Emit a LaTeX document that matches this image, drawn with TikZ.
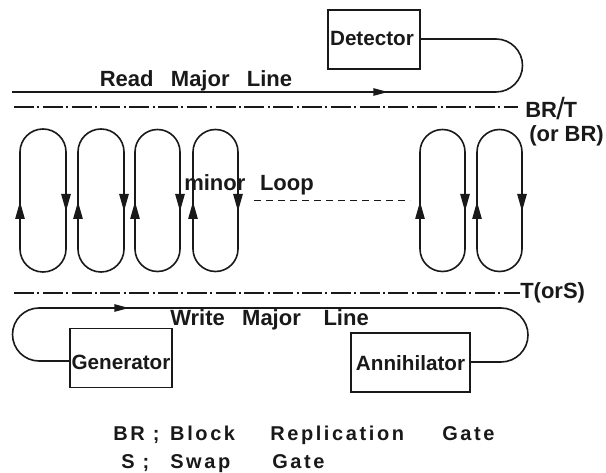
\documentclass[tikz,border=0pt]{standalone}
\usepackage{fontspec}
\setmainfont{Liberation Sans}[BoldFont={Liberation Sans Bold}]
\newfontfamily\spacedfont{Liberation Sans Bold}[LetterSpace=13]
\usetikzlibrary{arrows.meta}
\newcommand{\gp}[1]{\hspace{#1pt}}
\tikzset{
  x=0.75pt,y=-0.75pt,
  ln/.style={line width=1.2pt,black!90},
  boxnode/.style={draw,line width=1.2pt,black!90,inner sep=0pt},
  boxtext/.style={inner sep=0pt,font=\fontsize{15.5}{17}\selectfont\bfseries,black!90},
  lbl/.style={inner sep=0pt,font=\fontsize{16.5}{18}\selectfont\bfseries,black!90},
  lgd/.style={inner sep=0pt,anchor=west,font=\fontsize{15}{16}\spacedfont,black!90},
  gate/.style={line width=1.3pt,black!90,dash pattern=on 15pt off 2.5pt on 1.6pt off 2.5pt},
  vtip/.style={line width=1.2pt,black!90,-{Triangle[length=13pt,width=7pt]},shorten >=-1pt},
  htip/.style={line width=1.2pt,black!90,-{Triangle[length=11pt,width=5.5pt]}}
}
\begin{document}
\begin{tikzpicture}
\useasboundingbox (0,0) rectangle (606,473);
% boxes
\node[boxnode,minimum width=69pt,minimum height=44.25pt] (det) at (374,39.5) {};
\node[boxtext] (dett) at (372,38.5) {Detector};
\node[boxnode,minimum width=76.5pt,minimum height=44.25pt] (gen) at (121,358) {};
\node[boxtext] (gent) at (121,362) {Generator};
\node[boxnode,minimum width=89.25pt,minimum height=44.25pt] (ann) at (410.5,362.5) {};
\node[boxtext] (annt) at (410.5,363) {Annihilator};
% read major line
\coordinate (rstart) at (12,92);
\coordinate (rtip) at (388,92);
\coordinate (wtip) at (129,308);
\draw[ln] (det.east |- 0,39) -- (496,39) arc[start angle=-90,end angle=90,radius=26.5] -- (rstart);
\draw[htip] (370,92) -- (rtip);
% write major line
\draw[ln] (gen.west |- 0,361) -- (39,361) arc[start angle=90,end angle=270,radius=26.5] -- (501,308)
   arc[start angle=-90,end angle=90,radius=27] -- (ann.east |- 0,362);
\draw[htip] (112,308) -- (wtip);
% gate lines
\coordinate (g1a) at (14,107); \coordinate (g1b) at (518,107);
\coordinate (g2a) at (14,293); \coordinate (g2b) at (520,293);
\draw[gate] (g1a) -- (g1b);
\draw[gate] (g2a) -- (g2b);
% minor loops
\foreach \l/\r in {20/66,78/124,135/180,193/238,420/465,477/522}{
  \pgfmathsetmacro{\rad}{(\r-\l)/2}
  \draw[ln] (\l,249) -- (\l,152) arc[start angle=180,end angle=360,radius=\rad] -- (\r,249)
     arc[start angle=0,end angle=180,radius=\rad];
  \draw[vtip] (\l,221) -- (\l,203);
  \draw[vtip] (\r,192) -- (\r,210);
}
% dashed link
\coordinate (da) at (254,200.5); \coordinate (db) at (410,200.5);
\draw[line width=1pt,black!90,dash pattern=on 5.5pt off 3.5pt] (da) -- (db);
% labels
\node[lbl] (read) at (196,80.5) {Read\gp{13}Major\gp{13}Line};
\node[lbl,anchor=west] (write) at (170,320) {Write\gp{13}Major\gp{17}Line};
\node[lbl,anchor=west] (minor) at (184,185) {minor\gp{11}Loop};
\node[lbl,anchor=base west] (brt) at (525,118) {BR\kern-0.5pt\smash{\raisebox{-1pt}{\fontsize{23}{23}\selectfont\mdseries/}}\kern-1pt T};
\node[lbl,anchor=base west] (orbr) at (529,142) {(or BR)};
\node[lbl,anchor=west] (ts) at (520,293) {T(orS)};
\node[lgd] (l1) at (113,435) {\makebox[42.75pt][l]{BR ;}\makebox[75pt][l]{Block}\makebox[129pt][l]{Replication}Gate};
\node[lgd] (l2) at (121,464) {\makebox[36.75pt][l]{S ;}\makebox[76.5pt][l]{Swap}Gate};
\end{tikzpicture}
\end{document}
